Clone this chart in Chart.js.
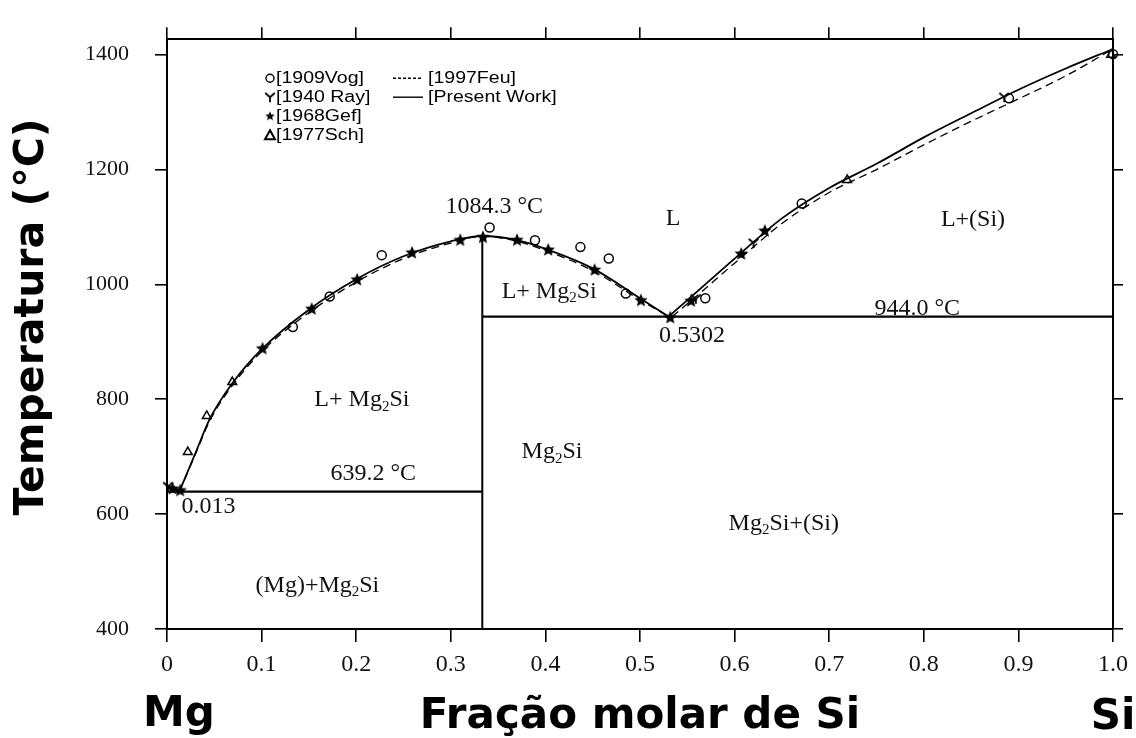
<!DOCTYPE html>
<html>
<head>
<meta charset="utf-8">
<script src="https://cdn.jsdelivr.net/npm/chart.js@4/dist/chart.umd.min.js"></script>
<style>
  body { margin: 0; background: #fff; }
  canvas { display: block; }
</style>
</head>
<body>
<canvas id="chart" width="1136" height="738"></canvas>
<script>
// liquidus, present work (solid)
const liqLeftX = [0.013, 0.03, 0.045, 0.07, 0.1, 0.15, 0.2, 0.25, 0.3, 0.3333, 0.37, 0.4, 0.45, 0.5, 0.5302];
const liqLeftT = [639.2, 706, 765, 830, 887, 956, 1009, 1049, 1075, 1084.3, 1077, 1062, 1028, 976, 944];
const liqRightX = [0.5302, 0.56, 0.6, 0.65, 0.7, 0.75, 0.8, 0.85, 0.9, 0.95, 1.0];
const liqRightT = [944, 987, 1045, 1115, 1168, 1210, 1256, 1298, 1339, 1376, 1410];

// liquidus, 1997Feu (dashed)
const feuLeftX = [0.013, 0.03, 0.045, 0.07, 0.1, 0.15, 0.2, 0.25, 0.3, 0.3333, 0.37, 0.4, 0.45, 0.5, 0.5302];
const feuLeftT = [639.2, 704, 762, 826, 883, 951, 1004, 1045, 1072, 1084, 1075, 1059, 1024, 973, 944];
const feuRightX = [0.534, 0.56, 0.6, 0.65, 0.7, 0.75, 0.8, 0.85, 0.9, 0.95, 1.0];
const feuRightT = [944, 980, 1037, 1106, 1160, 1200, 1243, 1284, 1323, 1363, 1410];

// invariant lines
const mgSideX = [0, 0.013];
const mgSideT = [650, 639.2];
const compoundX = [0.3333, 0.3333];
const compoundT = [400, 1084.3];
const eutMgX = [0, 0.3333];
const eutMgT = [639.2, 639.2];
const eutSiX = [0.3333, 1.0];
const eutSiT = [944, 944];

// experimental points
const vogX = [0.133, 0.172, 0.227, 0.341, 0.389, 0.437, 0.467, 0.485, 0.569, 0.671, 0.890, 1.0];
const vogT = [926, 979, 1051, 1099, 1077, 1065, 1045, 984, 976, 1141, 1324, 1401];
const rayX = [0.001, 0.559, 0.62, 0.885];
const rayT = [648, 975, 1072, 1326];
const gefX = [0.006, 0.014, 0.101, 0.153, 0.201, 0.259, 0.310, 0.334, 0.370, 0.403, 0.452, 0.501, 0.532, 0.554, 0.607, 0.632];
const gefT = [644, 641, 888, 957, 1008, 1055, 1077, 1082, 1077, 1060, 1025, 972, 942, 971, 1053, 1093];
const schX = [0.022, 0.042, 0.069, 0.719, 0.998];
const schT = [708, 771, 830, 1182, 1400];

// tick values
const tempTicks = [400, 600, 800, 1000, 1200, 1400];

// region / point labels ("_2" = subscript 2)
const noteText = ["1084.3 °C", "L", "L+ Mg_2Si", "0.5302", "944.0 °C", "L+(Si)", "L+ Mg_2Si", "Mg_2Si", "639.2 °C", "0.013", "Mg_2Si+(Si)", "(Mg)+Mg_2Si"];
const noteX = [0.346, 0.535, 0.404, 0.555, 0.793, 0.852, 0.206, 0.407, 0.218, 0.044, 0.652, 0.159];
const noteT = [1135, 1115, 988, 910, 957, 1113, 799, 709, 670, 613, 584, 476];

const legendLeft = ["[1909Vog]", "[1940 Ray]", "[1968Gef]", "[1977Sch]"];
const legendRight = ["[1997Feu]", "[Present Work]"];

const pts = (xs, ys) => xs.map((v, i) => ({ x: v, y: ys[i] }));

function starImage(r) {
  const c = document.createElement("canvas");
  c.width = c.height = r * 2 + 2;
  const g = c.getContext("2d");
  g.translate(r + 1, r + 1);
  g.beginPath();
  for (let i = 0; i < 10; i++) {
    const rad = i % 2 === 0 ? r : r * 0.45;
    const a = -Math.PI / 2 + i * Math.PI / 5;
    g.lineTo(rad * Math.cos(a), rad * Math.sin(a));
  }
  g.closePath();
  g.fillStyle = "#000";
  g.fill();
  return c;
}

function yImage(r) {
  const c = document.createElement("canvas");
  c.width = c.height = r * 2 + 2;
  const g = c.getContext("2d");
  g.translate(r + 1, r + 1);
  g.strokeStyle = "#000";
  g.lineWidth = 1.8;
  g.beginPath();
  g.moveTo(-r * 0.8, -r * 0.7);
  g.lineTo(0, 0);
  g.lineTo(r * 0.8, -r * 0.7);
  g.moveTo(0, 0);
  g.lineTo(0, r * 0.85);
  g.stroke();
  return c;
}

const starPt = starImage(7);
const yPt = yImage(6);

function drawRich(ctx, text, cx, cy, size) {
  const parts = [];
  let buf = "";
  for (let i = 0; i < text.length; i++) {
    if (text[i] === "_") {
      if (buf) parts.push([buf, false]);
      buf = "";
      parts.push([text[i + 1], true]);
      i++;
    } else {
      buf += text[i];
    }
  }
  if (buf) parts.push([buf, false]);
  const big = size + 'px "Liberation Serif"';
  const small = Math.round(size * 0.62) + 'px "Liberation Serif"';
  let w = 0;
  parts.forEach(p => {
    ctx.font = p[1] ? small : big;
    w += ctx.measureText(p[0]).width;
  });
  let x = cx - w / 2;
  ctx.fillStyle = "#111";
  ctx.textAlign = "left";
  ctx.textBaseline = "middle";
  parts.forEach(p => {
    ctx.font = p[1] ? small : big;
    ctx.fillText(p[0], x, p[1] ? cy + size * 0.3 : cy);
    x += ctx.measureText(p[0]).width;
  });
}

const annotate = {
  id: "annotate",
  afterDatasetsDraw(chart) {
    const { ctx, scales, chartArea } = chart;
    ctx.save();
    noteText.forEach((t, i) => {
      drawRich(ctx, t, scales.x.getPixelForValue(noteX[i]), scales.y.getPixelForValue(noteT[i]), 24);
    });

    // legend box inside the plot
    const lx = chartArea.left + 103;
    const ly = chartArea.top + 39;
    const step = 19;
    ctx.strokeStyle = "#000";
    ctx.fillStyle = "#000";
    ctx.lineWidth = 1.4;
    // circle
    ctx.beginPath();
    ctx.arc(lx, ly, 4, 0, Math.PI * 2);
    ctx.stroke();
    // Y
    ctx.drawImage(yPt, lx - 7, ly + step - 7);
    // star
    ctx.drawImage(starImage(5), lx - 6, ly + step * 2 - 6);
    // triangle
    ctx.beginPath();
    ctx.moveTo(lx, ly + step * 3 - 5);
    ctx.lineTo(lx + 5, ly + step * 3 + 4);
    ctx.lineTo(lx - 5, ly + step * 3 + 4);
    ctx.closePath();
    ctx.lineWidth = 2;
    ctx.stroke();

    ctx.font = '16px "Liberation Sans"';
    ctx.textBaseline = "middle";
    ctx.textAlign = "left";
    legendLeft.forEach((t, i) => {
      ctx.save();
      ctx.translate(lx + 6, ly + step * i);
      ctx.scale(1.22, 1);
      ctx.fillText(t, 0, 0);
      ctx.restore();
    });
    const rx = chartArea.left + 226;
    ctx.lineWidth = 1.4;
    ctx.setLineDash([3, 2]);
    ctx.beginPath();
    ctx.moveTo(rx, ly);
    ctx.lineTo(rx + 30, ly);
    ctx.stroke();
    ctx.setLineDash([]);
    ctx.beginPath();
    ctx.moveTo(rx, ly + step);
    ctx.lineTo(rx + 30, ly + step);
    ctx.stroke();
    legendRight.forEach((t, i) => {
      ctx.save();
      ctx.translate(rx + 35, ly + step * i);
      ctx.scale(1.22, 1);
      ctx.fillText(t, 0, 0);
      ctx.restore();
    });
    ctx.restore();
  },
  afterDraw(chart) {
    const { ctx } = chart;
    ctx.save();
    ctx.fillStyle = "#000";
    ctx.textAlign = "center";
    ctx.textBaseline = "middle";
    ctx.font = 'bold 41px "DejaVu Sans"';
    ctx.save();
    ctx.translate(32, 317);
    ctx.rotate(-Math.PI / 2);
    ctx.fillText("Temperatura (°C)", 0, 0);
    ctx.restore();
    ctx.font = 'bold 42px "DejaVu Sans"';
    ctx.fillText("Mg", 179, 715);
    ctx.fillText("Fração molar de Si", 640, 717);
    ctx.fillText("Si", 1113, 718);
    ctx.restore();
  }
};

const lineSet = (data, extra) => Object.assign({
  data: data,
  showLine: true,
  borderColor: "#000",
  borderWidth: 1.8,
  pointRadius: 0,
  fill: false
}, extra);

const markSet = (data, style, radius) => ({
  data: data,
  showLine: false,
  pointStyle: style,
  pointRadius: radius,
  pointBorderColor: "#000",
  pointBorderWidth: 1.5,
  pointBackgroundColor: "rgba(255,255,255,0)",
  clip: false
});

const axisGrid = len => ({
  display: true,
  drawOnChartArea: false,
  drawTicks: true,
  tickLength: len,
  color: "#000",
  lineWidth: 1.6
});

const setTempTicks = s => { s.ticks = tempTicks.map(v => ({ value: v })); };

new Chart(document.getElementById("chart"), {
  type: "line",
  data: {
    datasets: [
      markSet(pts(vogX, vogT), "circle", 4.5),
      markSet(pts(rayX, rayT), yPt, 6),
      markSet(pts(gefX, gefT), starPt, 7),
      markSet(pts(schX, schT), "triangle", 5),
      lineSet(pts(liqLeftX, liqLeftT), { cubicInterpolationMode: "monotone" }),
      lineSet(pts(liqRightX, liqRightT), { cubicInterpolationMode: "monotone" }),
      lineSet(pts(feuLeftX, feuLeftT), { cubicInterpolationMode: "monotone", borderDash: [8, 5], borderWidth: 1.3 }),
      lineSet(pts(feuRightX, feuRightT), { cubicInterpolationMode: "monotone", borderDash: [8, 5], borderWidth: 1.3 }),
      lineSet(pts(mgSideX, mgSideT), {}),
      lineSet(pts(compoundX, compoundT), { borderWidth: 2 }),
      lineSet(pts(eutMgX, eutMgT), { borderWidth: 2.2 }),
      lineSet(pts(eutSiX, eutSiT), { borderWidth: 2.2 })
    ]
  },
  options: {
    responsive: false,
    animation: false,
    layout: { padding: 0 },
    plugins: {
      legend: { display: false },
      tooltip: { enabled: false }
    },
    scales: {
      x: {
        type: "linear",
        position: "bottom",
        min: 0,
        max: 1,
        grid: axisGrid(13),
        border: { display: true, color: "#000", width: 2 },
        ticks: {
          stepSize: 0.1,
          padding: 8,
          color: "#111",
          font: { family: "Liberation Serif", size: 24 },
          maxRotation: 0,
          callback: v => (v === 0 ? "0" : v.toFixed(1))
        },
        afterFit: s => { s.height = 109; }
      },
      xTop: {
        type: "linear",
        position: "top",
        min: 0,
        max: 1,
        grid: axisGrid(12),
        border: { display: true, color: "#000", width: 2 },
        ticks: { stepSize: 0.1, display: false },
        afterFit: s => { s.height = 31; }
      },
      y: {
        type: "linear",
        position: "left",
        min: 400,
        max: 1427,
        grid: axisGrid(12),
        border: { display: true, color: "#000", width: 2 },
        afterBuildTicks: setTempTicks,
        ticks: {
          padding: 26,
          color: "#111",
          font: { family: "Liberation Serif", size: 22 },
          callback: v => String(v)
        },
        afterFit: s => { s.width = 167; }
      },
      yRight: {
        type: "linear",
        position: "right",
        min: 400,
        max: 1427,
        grid: axisGrid(10),
        border: { display: true, color: "#000", width: 2 },
        afterBuildTicks: setTempTicks,
        ticks: { display: false },
        afterFit: s => { s.width = 22; }
      }
    }
  },
  plugins: [annotate]
});
</script>
</body>
</html>
